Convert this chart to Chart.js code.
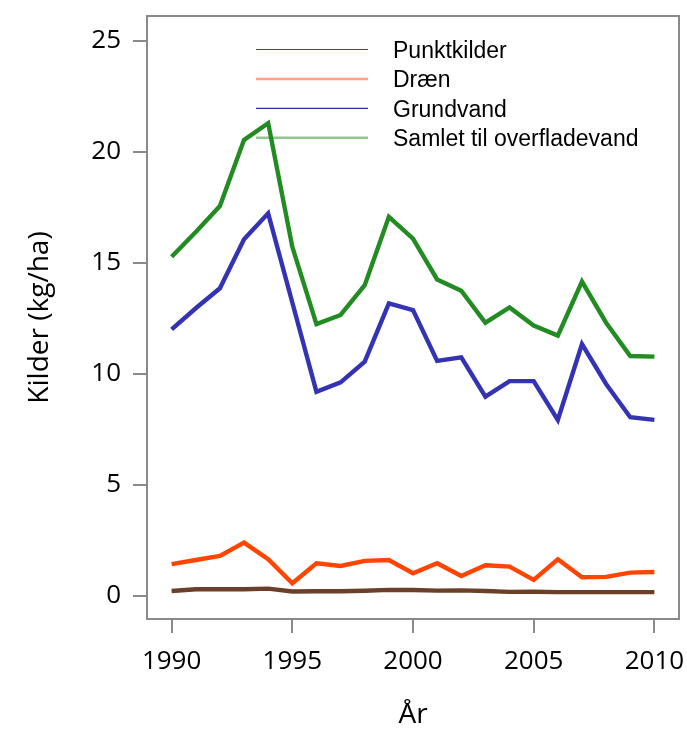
<!DOCTYPE html>
<html>
<head>
<meta charset="utf-8">
<script src="https://cdn.jsdelivr.net/npm/chart.js@4/dist/chart.umd.min.js"></script>
<style>
  html, body { margin: 0; padding: 0; background: #ffffff; }
  #wrap { width: 687px; height: 732px; }
</style>
</head>
<body>
<div id="wrap"><canvas id="c" width="687" height="732"></canvas></div>
<script>
const years = [1990,1991,1992,1993,1994,1995,1996,1997,1998,1999,2000,2001,2002,2003,2004,2005,2006,2007,2008,2009,2010];
const punktkilder = [0.22,0.30,0.30,0.30,0.33,0.20,0.21,0.21,0.23,0.27,0.27,0.24,0.25,0.22,0.18,0.19,0.17,0.17,0.17,0.17,0.17];
const draen = [1.43,1.62,1.80,2.40,1.65,0.57,1.47,1.35,1.58,1.62,1.02,1.47,0.90,1.38,1.32,0.72,1.65,0.84,0.86,1.05,1.08];
const grundvand = [12.01,12.96,13.86,16.07,17.24,13.22,9.20,9.62,10.56,13.18,12.88,10.59,10.75,8.98,9.68,9.68,7.93,11.35,9.55,8.05,7.93];
const samlet = [15.28,16.40,17.57,20.55,21.30,15.73,12.25,12.66,14.00,17.08,16.10,14.26,13.75,12.31,13.00,12.18,11.73,14.16,12.31,10.81,10.78];
const seriesNames = ['Punktkilder','Dræn','Grundvand','Samlet til overfladevand'];
const xTickValues = [1990,1995,2000,2005,2010];
const yTickValues = [0,5,10,15,20,25];

const lineColors = ['#6b3f2a','#ff4500','#3333b3','#228b22'];
const legendColors = ['#6b3f2a','rgba(255,69,0,0.5)','#2b2bb0','rgba(34,139,34,0.5)'];
const legendWidths = [1.2,2.5,1.2,2.5];

const toPts = arr => arr.map((v,i) => ({x: years[i], y: v}));

const boxPlugin = {
  id: 'box',
  beforeDatasetsDraw(chart) {
    const ctx = chart.ctx, a = chart.chartArea;
    ctx.save();
    const lx0 = a.left + 109, lx1 = a.left + 221, tx = a.left + 246;
    const y0 = a.top + 33.5, dy = 29.4;
    ctx.font = '23px "Liberation Sans", Arial, sans-serif';
    ctx.fillStyle = '#000';
    ctx.textBaseline = 'middle';
    seriesNames.forEach((name, i) => {
      const y = y0 + i * dy;
      ctx.strokeStyle = legendColors[i];
      ctx.lineWidth = legendWidths[i];
      ctx.beginPath();
      ctx.moveTo(lx0, y);
      ctx.lineTo(lx1, y);
      ctx.stroke();
      ctx.fillText(name, tx, y + 2);
    });
    ctx.restore();
  },
  afterDraw(chart) {
    const ctx = chart.ctx, a = chart.chartArea;
    ctx.save();
    ctx.strokeStyle = '#888a8c';
    ctx.lineWidth = 2;
    ctx.strokeRect(a.left, a.top, a.right - a.left, a.bottom - a.top);
    ctx.restore();
  }
};

const tickFont = {family: '"Open Sans", "Noto Sans", sans-serif', size: 26};
const titleFont = {family: '"Open Sans", "Noto Sans", sans-serif', size: 28};
const zeroPad = s => { s.paddingTop = 0; s.paddingBottom = 0; s.paddingLeft = 0; s.paddingRight = 0; };

new Chart(document.getElementById('c'), {
  type: 'line',
  data: {
    datasets: [
      {label: seriesNames[3], data: toPts(samlet), borderColor: lineColors[3], order: 4},
      {label: seriesNames[2], data: toPts(grundvand), borderColor: lineColors[2], order: 3},
      {label: seriesNames[1], data: toPts(draen), borderColor: lineColors[1], order: 2},
      {label: seriesNames[0], data: toPts(punktkilder), borderColor: lineColors[0], order: 1}
    ]
  },
  options: {
    responsive: false,
    animation: false,
    layout: {padding: {top: 16, right: 8, left: 0, bottom: 0}},
    elements: {
      point: {radius: 0},
      line: {borderWidth: 4.4, tension: 0, fill: false, borderCapStyle: 'butt', borderJoinStyle: 'miter'}
    },
    plugins: {legend: {display: false}, tooltip: {enabled: false}},
    scales: {
      x: {
        type: 'linear',
        min: 1988.98,
        max: 2011.02,
        afterBuildTicks: s => { s.ticks = xTickValues.map(v => ({value: v})); },
        afterFit: s => { s.height = 113; zeroPad(s); },
        ticks: {font: tickFont, color: '#000', padding: 13, maxRotation: 0, callback: v => String(v)},
        grid: {drawOnChartArea: false, drawTicks: true, tickLength: 14, color: '#888a8c', lineWidth: 2},
        border: {display: false},
        title: {display: true, text: 'År', font: titleFont, color: '#000', padding: {top: 5, bottom: 0}}
      },
      y: {
        type: 'linear',
        min: -1.04,
        max: 26.13,
        afterBuildTicks: s => { s.ticks = yTickValues.map(v => ({value: v})); },
        afterFit: s => { s.width = 147; zeroPad(s); },
        ticks: {font: tickFont, color: '#000', padding: 12, callback: v => String(v)},
        grid: {drawOnChartArea: false, drawTicks: true, tickLength: 14, color: '#888a8c', lineWidth: 2},
        border: {display: false},
        title: {display: true, text: 'Kilder (kg/ha)', font: titleFont, color: '#000', padding: {top: 23, bottom: 0}}
      }
    }
  },
  plugins: [boxPlugin]
});
</script>
</body>
</html>
